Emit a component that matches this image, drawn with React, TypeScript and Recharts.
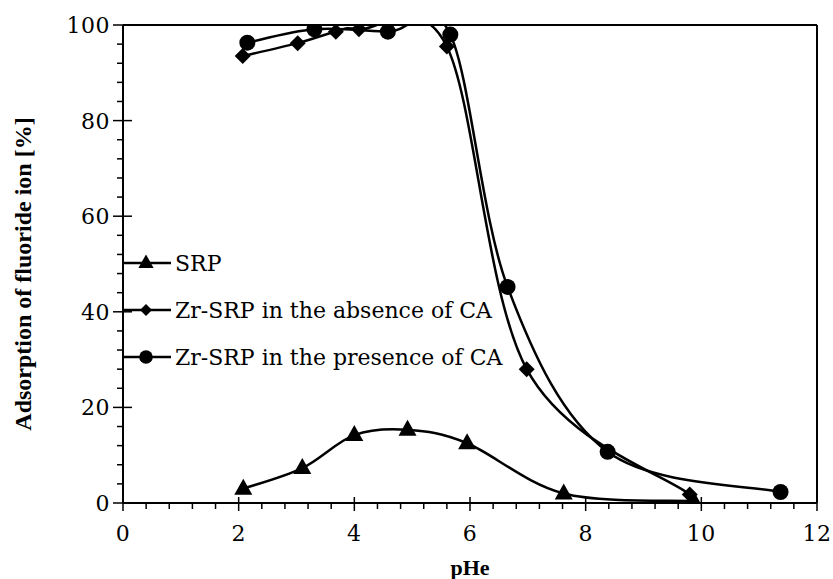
import React from 'react';
import {
  Label,
  Legend,
  Line,
  LineChart,
  ReferenceLine,
  XAxis,
  YAxis,
} from 'recharts';

// SRP (triangles)
const SRP_PH = [2.08, 3.1, 4.0, 4.92, 5.95, 7.62, 9.87];
const SRP_ADS = [3.0, 7.3, 14.2, 15.3, 12.5, 2.0, 0.4];

// Zr-SRP without citric acid (diamonds)
const ABSENT_PH = [2.07, 3.02, 3.68, 4.08, 5.6, 6.98, 9.8];
const ABSENT_ADS = [93.5, 96.2, 98.6, 99.1, 95.5, 28.0, 1.8];

// Zr-SRP with citric acid (circles)
const PRESENT_PH = [2.15, 3.31, 4.58, 5.66, 6.65, 8.38, 11.37];
const PRESENT_ADS = [96.3, 99.1, 98.6, 98.0, 45.2, 10.7, 2.3];

const X_MAJOR = [0, 2, 4, 6, 8, 10, 12];
const X_TICKS = [
  0, 0.4, 0.8, 1.2, 1.6, 2, 2.4, 2.8, 3.2, 3.6, 4, 4.4, 4.8, 5.2, 5.6, 6, 6.4,
  6.8, 7.2, 7.6, 8, 8.4, 8.8, 9.2, 9.6, 10, 10.4, 10.8, 11.2, 11.6, 12,
];
const Y_MAJOR = [0, 20, 40, 60, 80, 100];
const Y_TICKS = [
  0, 4, 8, 12, 16, 20, 24, 28, 32, 36, 40, 44, 48, 52, 56, 60, 64, 68, 72, 76,
  80, 84, 88, 92, 96, 100,
];

const SERIES_NAMES = [
  'SRP',
  'Zr-SRP in the absence of CA',
  'Zr-SRP in the presence of CA',
];
const SERIES_MARKERS = ['triangle', 'diamond', 'circle'];

const TICK_FONT = '"DejaVu Serif", serif';
const LABEL_FONT = '"Liberation Serif", "Times New Roman", serif';

const toPoints = (xs: number[], ys: number[]) =>
  xs.map((x, i) => ({ x, y: ys[i] }));

// Excel-style smoothed line (Catmull-Rom through every point)
const smoothCurve = (context: any) => {
  let pts: number[][] = [];
  return {
    areaStart() {},
    areaEnd() {},
    lineStart() {
      pts = [];
    },
    point(x: number, y: number) {
      pts.push([+x, +y]);
    },
    lineEnd() {
      if (!pts.length) return;
      context.moveTo(pts[0][0], pts[0][1]);
      for (let i = 0; i < pts.length - 1; i++) {
        const p0 = pts[i - 1] || pts[i];
        const p1 = pts[i];
        const p2 = pts[i + 1];
        const p3 = pts[i + 2] || pts[i + 1];
        context.bezierCurveTo(
          p1[0] + (p2[0] - p0[0]) / 6,
          p1[1] + (p2[1] - p0[1]) / 6,
          p2[0] - (p3[0] - p1[0]) / 6,
          p2[1] - (p3[1] - p1[1]) / 6,
          p2[0],
          p2[1],
        );
      }
    },
  };
};

function Marker({ kind, cx, cy, s = 1 }: { kind: string; cx: number; cy: number; s?: number }) {
  if (kind === 'triangle') {
    const pts = `${cx},${cy - 10 * s} ${cx - 9 * s},${cy + 6 * s} ${cx + 9 * s},${cy + 6 * s}`;
    return <polygon points={pts} fill="#000" />;
  }
  if (kind === 'diamond') {
    const pts = `${cx},${cy - 8 * s} ${cx + 8 * s},${cy} ${cx},${cy + 8 * s} ${cx - 8 * s},${cy}`;
    return <polygon points={pts} fill="#000" />;
  }
  return <circle cx={cx} cy={cy} r={8 * s} fill="#000" />;
}

const dotFor = (kind: string) => (props: any) => (
  <Marker key={`${kind}-${props.index}`} kind={kind} cx={props.cx} cy={props.cy} />
);

function XTick(props: any) {
  const { x, y, payload } = props;
  const axisY = y - 22;
  const major = X_MAJOR.includes(payload.value);
  return (
    <g>
      <line
        x1={x}
        x2={x}
        y1={major ? axisY - 6 : axisY}
        y2={axisY + (major ? 8 : 6)}
        stroke="#000"
        strokeWidth={1.5}
      />
      {major && (
        <text x={x} y={y} dy="0.71em" textAnchor="middle" fontSize={22} letterSpacing={0.5} fontFamily={TICK_FONT} fill="#000">
          {payload.value}
        </text>
      )}
    </g>
  );
}

function YTick(props: any) {
  const { x, y, payload } = props;
  const axisX = x + 13;
  const major = Y_MAJOR.includes(payload.value);
  return (
    <g>
      <line
        x1={axisX - (major ? 10 : 6)}
        x2={major ? axisX + 9 : axisX}
        y1={y}
        y2={y}
        stroke="#000"
        strokeWidth={1.5}
      />
      {major && (
        <text x={x} y={y} dy="0.36em" textAnchor="end" fontSize={22} letterSpacing={0.5} fontFamily={TICK_FONT} fill="#000">
          {payload.value}
        </text>
      )}
    </g>
  );
}

function LegendBox() {
  return (
    <svg width={420} height={140} style={{ display: 'block' }}>
      {SERIES_NAMES.map((name, i) => {
        const y = 23 + i * 47;
        return (
          <g key={name}>
            <line x1={0} x2={48} y1={y} y2={y} stroke="#000" strokeWidth={2.5} />
            <Marker kind={SERIES_MARKERS[i]} cx={23} cy={y} s={i === 1 ? 0.75 : 0.85} />
            <text x={52} y={y} dy="0.36em" fontSize={22} fontFamily={TICK_FONT} fill="#000">
              {name}
            </text>
          </g>
        );
      })}
    </svg>
  );
}

export default function App() {
  const srp = toPoints(SRP_PH, SRP_ADS);
  const absent = toPoints(ABSENT_PH, ABSENT_ADS);
  const present = toPoints(PRESENT_PH, PRESENT_ADS);
  return (
    <div style={{ position: 'absolute', left: 0, top: 0, background: '#fff' }}>
      <LineChart width={833} height={579} margin={{ top: 25, right: 16, bottom: 0, left: 0 }}>
        <XAxis
          dataKey="x"
          type="number"
          domain={[0, 12]}
          ticks={X_TICKS}
          interval={0}
          height={76}
          tickSize={8}
          tickMargin={14}
          tickLine={false}
          tick={<XTick />}
          axisLine={{ stroke: '#000', strokeWidth: 2 }}
          allowDataOverflow
        >
          <Label
            content={({ viewBox }: any) => (
              <text
                x={viewBox.x + viewBox.width / 2}
                y={viewBox.y + 72}
                textAnchor="middle"
                fontSize={22}
                fontWeight="bold"
                fontFamily={LABEL_FONT}
                fill="#000"
              >
                pHe
              </text>
            )}
          />
        </XAxis>
        <YAxis
          dataKey="y"
          type="number"
          domain={[0, 100]}
          ticks={Y_TICKS}
          interval={0}
          width={123}
          tickSize={10}
          tickMargin={3}
          tickLine={false}
          tick={<YTick />}
          axisLine={{ stroke: '#000', strokeWidth: 2 }}
          allowDataOverflow
        >
          <Label
            content={({ viewBox }: any) => {
              const cx = 23;
              const cy = viewBox.y + viewBox.height / 2 + 10;
              return (
                <text
                  x={cx}
                  y={cy}
                  transform={`rotate(-90 ${cx} ${cy})`}
                  textAnchor="middle"
                  dominantBaseline="central"
                  fontSize={24}
                  fontWeight="bold"
                  fontFamily={LABEL_FONT}
                  fill="#000"
                >
                  Adsorption of fluoride ion [%]
                </text>
              );
            }}
          />
        </YAxis>
        <ReferenceLine y={100} stroke="#000" strokeWidth={2} />
        <ReferenceLine x={12} stroke="#000" strokeWidth={2} />
        <Legend
          layout="horizontal"
          verticalAlign="middle"
          align="center"
          wrapperStyle={{ left: 123, top: 240, width: 420 }}
          content={() => <LegendBox />}
        />
        <Line
          data={srp}
          dataKey="y"
          name={SERIES_NAMES[0]}
          type={smoothCurve as any}
          stroke="#000"
          strokeWidth={2.5}
          dot={dotFor('triangle')}
          isAnimationActive={false}
        />
        <Line
          data={absent}
          dataKey="y"
          name={SERIES_NAMES[1]}
          type={smoothCurve as any}
          stroke="#000"
          strokeWidth={2.5}
          dot={dotFor('diamond')}
          isAnimationActive={false}
        />
        <Line
          data={present}
          dataKey="y"
          name={SERIES_NAMES[2]}
          type={smoothCurve as any}
          stroke="#000"
          strokeWidth={2.5}
          dot={dotFor('circle')}
          isAnimationActive={false}
        />
      </LineChart>
    </div>
  );
}
